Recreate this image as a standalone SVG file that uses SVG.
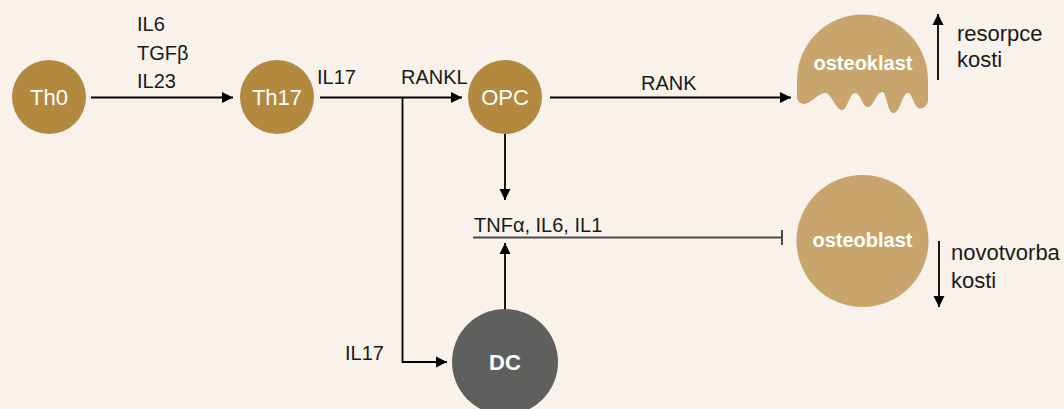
<svg xmlns="http://www.w3.org/2000/svg" width="1064" height="409" viewBox="0 0 1064 409">
<defs>
<marker id="ah" markerWidth="12" markerHeight="12" refX="11" refY="6" orient="auto" markerUnits="userSpaceOnUse">
<path d="M0,0.5 L11,6 L0,11.5 Z" fill="#000"/>
</marker>
<style>
.lbl{font-family:"Liberation Sans",Arial,sans-serif;font-size:20px;fill:#1a1a1a}
.lc{font-size:22px}
.nt{font-family:"Liberation Sans",Arial,sans-serif;font-size:22px;fill:#fff;text-anchor:middle}
.bt{font-family:"Liberation Sans",Arial,sans-serif;font-size:20px;font-weight:bold;fill:#fff;text-anchor:middle}
.ln{stroke:#000;stroke-width:1.8;fill:none}
.th{fill:#b3883f}
.os{fill:#c8a56c}
</style>
</defs>
<rect width="1064" height="409" fill="#f8f2eb"/>
<g id="connectors">
<line class="ln" x1="91" y1="97.5" x2="233" y2="97.5" marker-end="url(#ah)"/>
<line class="ln" x1="320" y1="97.5" x2="462" y2="97.5" marker-end="url(#ah)"/>
<polyline class="ln" points="402.5,97.5 402.5,362 447,362" marker-end="url(#ah)"/>
<line class="ln" x1="550" y1="97.5" x2="791" y2="97.5" marker-end="url(#ah)"/>
<line class="ln" x1="505" y1="134" x2="505" y2="200" marker-end="url(#ah)"/>
<line class="ln" x1="505" y1="309" x2="505" y2="243" marker-end="url(#ah)"/>
<line x1="473" y1="237.5" x2="782" y2="237.5" stroke="#4a4a4a" stroke-width="1.8"/>
<line x1="782" y1="230" x2="782" y2="245" stroke="#4a4a4a" stroke-width="2"/>
<line class="ln" x1="938" y1="80" x2="938" y2="14" marker-end="url(#ah)"/>
<line class="ln" x1="939" y1="241" x2="939" y2="307" marker-end="url(#ah)"/>
</g>
<g id="labels">
<text class="lbl" x="137" y="31">IL6</text>
<text class="lbl" x="137" y="60">TGFβ</text>
<text class="lbl" x="137" y="88">IL23</text>
<text class="lbl" x="317" y="84">IL17</text>
<text class="lbl" x="401" y="84">RANKL</text>
<text class="lbl" x="641" y="90">RANK</text>
<text class="lbl" x="474" y="232">TNFα, IL6, IL1</text>
<text class="lbl" x="345" y="360">IL17</text>
<text class="lbl lc" x="957" y="41">resorpce</text>
<text class="lbl lc" x="957" y="67">kosti</text>
<text class="lbl lc" x="951" y="260">novotvorba</text>
<text class="lbl lc" x="951" y="288">kosti</text>
</g>
<g id="Th0">
<circle class="th" cx="49" cy="97" r="37"/>
<text class="nt" x="49" y="104.5">Th0</text>
</g>
<g id="Th17">
<circle class="th" cx="277" cy="97" r="37"/>
<text class="nt" x="277" y="104.5">Th17</text>
</g>
<g id="OPC">
<circle class="th" cx="505" cy="97" r="37"/>
<text class="nt" x="505" y="104.5">OPC</text>
</g>
<g id="DC">
<circle cx="505" cy="362" r="53" fill="#5f5f5e"/>
<text class="nt" x="505" y="369.5" font-weight="bold">DC</text>
</g>
<g id="osteoklast">
<path class="os" d="M797,80 A65.5,65.5 0 0 1 928,80 L928,100 C928,106 922,110 918,108 C913,104 912,93 908,93 C902,93 900,114 893,113 C887,112 887,92 882,92 C876,92 874,107 868,107 C862,107 861,93 855,93 C849,93 848,110 842,110 C835,110 832,93 825,93 C818,93 810,105 803,104 C799,103 797,100 797,97 Z"/>
<text class="bt" x="863" y="70">osteoklast</text>
</g>
<g id="osteoblast">
<circle class="os" cx="862.5" cy="241" r="66"/>
<text class="bt" x="862.5" y="247">osteoblast</text>
</g>
</svg>
